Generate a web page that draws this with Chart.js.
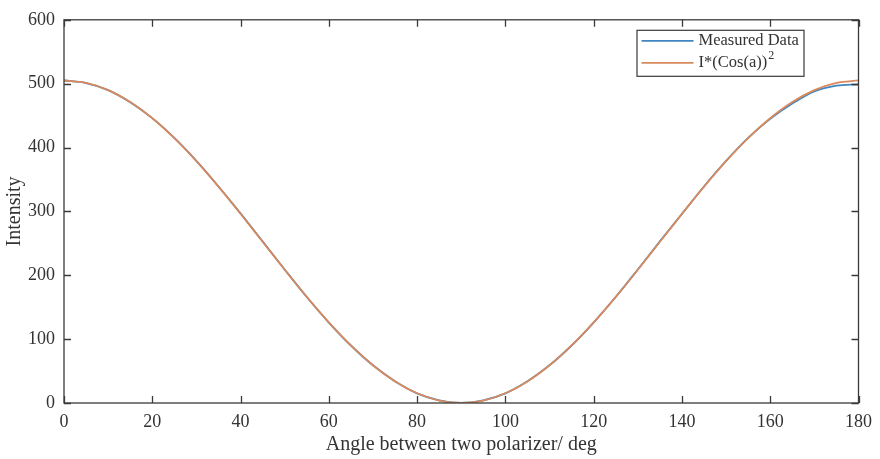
<!DOCTYPE html>
<html>
<head>
<meta charset="utf-8">
<script src="https://cdn.jsdelivr.net/npm/chart.js@4/dist/chart.umd.min.js"></script>
<style>
  html, body { margin: 0; padding: 0; background: #fff; }
  #wrap { width: 880px; height: 459px; position: relative; }
</style>
</head>
<body>
<div id="wrap"><canvas id="c" width="880" height="459"></canvas></div>
<script>
const angles = [0,5,10,15,20,25,30,35,40,45,50,55,60,65,70,75,80,85,90,95,100,105,110,115,120,125,130,135,140,145,150,155,160,165,170,175,180];
const measured = [505,501,490,471,446,415,379,339,297,253,209,166,126,90,59,34,15,4,0,4,15,34,59,90,126,166,209,253,296,339,379,415,445,469,488,497,499];
const fitted = [505,501.2,489.8,471.2,445.9,414.8,378.8,338.9,296.3,252.5,208.7,166.1,126.3,90.2,59.1,33.8,15.2,3.8,0,3.8,15.2,33.8,59.1,90.2,126.3,166.1,208.7,252.5,296.3,338.9,378.8,414.8,445.9,471.2,489.8,501.2,505];
const seriesLabels = ['Measured Data', 'I*(Cos(a))'];
const xTicks = [0,20,40,60,80,100,120,140,160,180];
const yTicks = [0,100,200,300,400,500,600];

const axisColor = '#3a3a3a';
const textColor = '#333333';
const blue = '#3f86c2';
const orange = '#d98a5c';
const serif = '"Liberation Serif", "Times New Roman", serif';

const boxPlugin = {
  id: 'boxPlugin',
  afterDraw(chart) {
    const {ctx, chartArea: a, scales} = chart;
    ctx.save();
    ctx.strokeStyle = axisColor;
    ctx.lineWidth = 1.3;
    ctx.strokeRect(a.left, a.top, a.right - a.left, a.bottom - a.top);
    const tl = 7;
    ctx.beginPath();
    xTicks.forEach(v => {
      const px = Math.round(scales.x.getPixelForValue(v)) + 0.5;
      ctx.moveTo(px, a.bottom); ctx.lineTo(px, a.bottom - tl);
      ctx.moveTo(px, a.top); ctx.lineTo(px, a.top + tl);
    });
    yTicks.forEach(v => {
      const py = Math.round(scales.y.getPixelForValue(v)) + 0.5;
      ctx.moveTo(a.left, py); ctx.lineTo(a.left + tl, py);
      ctx.moveTo(a.right, py); ctx.lineTo(a.right - tl, py);
    });
    ctx.stroke();

    // legend
    const bw = 167, bh = 46;
    const bx = a.right - 55 - bw, by = a.top + 10;
    ctx.fillStyle = '#fff';
    ctx.fillRect(bx, by, bw, bh);
    ctx.lineWidth = 1.2;
    ctx.strokeRect(bx + 0.5, by + 0.5, bw, bh);
    const items = [{c: blue, t: seriesLabels[0], sup: null}, {c: orange, t: seriesLabels[1], sup: '2'}];
    items.forEach((it, i) => {
      const y = by + 11 + i * 22;
      ctx.strokeStyle = it.c;
      ctx.lineWidth = 1.8;
      ctx.beginPath();
      ctx.moveTo(bx + 5, y); ctx.lineTo(bx + 57, y);
      ctx.stroke();
      ctx.fillStyle = textColor;
      ctx.font = '16.5px ' + serif;
      ctx.textBaseline = 'middle';
      ctx.textAlign = 'left';
      ctx.fillText(it.t, bx + 62, y);
      if (it.sup) {
        const w = ctx.measureText(it.t).width;
        ctx.font = '12px ' + serif;
        ctx.fillText(it.sup, bx + 63 + w, y - 7);
      }
    });
    ctx.restore();
  }
};

const ctx = document.getElementById('c').getContext('2d');
new Chart(ctx, {
  type: 'line',
  data: {
    datasets: [
      { label: seriesLabels[0], data: angles.map((a, i) => ({x: a, y: measured[i]})), borderColor: blue, borderWidth: 1.8, pointRadius: 0, cubicInterpolationMode: 'monotone', fill: false, order: 1 },
      { label: seriesLabels[1], data: angles.map((a, i) => ({x: a, y: fitted[i]})), borderColor: orange, borderWidth: 1.8, pointRadius: 0, cubicInterpolationMode: 'monotone', fill: false, order: 0 }
    ]
  },
  options: {
    responsive: false,
    animation: false,
    layout: { padding: { left: 0, right: 19, top: 14, bottom: 0 } },
    plugins: { legend: { display: false }, tooltip: { enabled: false } },
    scales: {
      x: {
        type: 'linear', min: 0, max: 180,
        afterBuildTicks: s => { s.ticks = xTicks.map(v => ({value: v})); },
        afterFit: s => { s.height = 56; },
        grid: { display: false, drawTicks: false },
        border: { display: false },
        ticks: { color: textColor, padding: 8, font: { family: serif, size: 18 }, maxRotation: 0 },
        title: { display: true, text: 'Angle between two polarizer/ deg', color: textColor, padding: { top: 0, bottom: 2 }, font: { family: serif, size: 20 } }
      },
      y: {
        type: 'linear', min: 0, max: 600,
        afterBuildTicks: s => { s.ticks = yTicks.map(v => ({value: v})); },
        afterFit: s => { s.width = 64; },
        grid: { display: false, drawTicks: false },
        border: { display: false },
        ticks: { color: textColor, padding: 9, font: { family: serif, size: 18 } },
        title: { display: true, text: 'Intensity', color: textColor, padding: { top: 3, bottom: 0 }, font: { family: serif, size: 20 } }
      }
    }
  },
  plugins: [boxPlugin]
});
</script>
</body>
</html>
